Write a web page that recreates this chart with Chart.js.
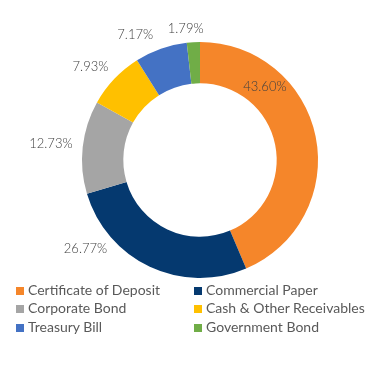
<!DOCTYPE html>
<html>
<head>
<meta charset="utf-8">
<script src="https://cdn.jsdelivr.net/npm/chart.js@4.4.0/dist/chart.umd.min.js"></script>
<style>
  body { margin: 0; background: #fff; }
  #wrap { position: relative; width: 369px; height: 390px; }
  #legend { position: absolute; left: 16px; top: 281px; width: 350px;
    font-family: Lato, "Open Sans", sans-serif; font-weight: 400; font-size: 14px; color: #595959; }
  .item { position: absolute; white-space: nowrap; line-height: 17px; }
  .box { display: inline-block; width: 8px; height: 8px; margin-right: 4px; vertical-align: 0px; }
</style>
</head>
<body>
<div id="wrap">
  <canvas id="myChart" width="369" height="390"></canvas>
  <div id="legend"></div>
</div>
<script>
// categories and values (percent)
const categories = ["Certificate of Deposit", "Commercial Paper", "Corporate Bond",
  "Cash & Other Receivables", "Treasury Bill", "Government Bond"];
const values = [43.60, 26.77, 12.73, 7.93, 7.17, 1.79];
const colors = ["#F5862A", "#05396F", "#A5A5A5", "#FFC000", "#4472C4", "#70AD47"];

// label placement: angle shift (deg) from slice middle, and radius (px) from center
const labelShift = [-37, 27, 0, -3, -8, -3];
const labelRadius = [98, 145, 150, 144, 141, 132];

// draws the percent labels
const pctLabels = {
  id: "pctLabels",
  afterDatasetsDraw(chart) {
    const ctx = chart.ctx;
    const arcs = chart.getDatasetMeta(0).data;
    ctx.save();
    ctx.font = "300 13px Lato, 'Open Sans', sans-serif";
    ctx.fillStyle = "#404040";
    ctx.textAlign = "center";
    ctx.textBaseline = "middle";
    arcs.forEach((arc, i) => {
      const mid = (arc.startAngle + arc.endAngle) / 2 + labelShift[i] * Math.PI / 180;
      const x = arc.x + Math.cos(mid) * labelRadius[i];
      const y = arc.y + Math.sin(mid) * labelRadius[i];
      ctx.fillText(values[i].toFixed(2) + "%", x, y);
    });
    ctx.restore();
  }
};

window.addEventListener("load", setup);

function setup() {
  const ctx = document.getElementById("myChart").getContext("2d");
  const chart = new Chart(ctx, {
    type: "doughnut",
    data: {
      labels: categories,
      datasets: [{
        data: values,
        backgroundColor: colors,
        borderWidth: 0,
      }],
    },
    options: {
      responsive: false,
      animation: false,
      cutout: "65%",
      layout: { padding: { left: 82, right: 51, top: 42, bottom: 112 } },
      plugins: { legend: { display: false }, tooltip: { enabled: false } },
    },
    plugins: [pctLabels],
  });

  // two-column legend under the chart
  const legend = document.getElementById("legend");
  chart.data.labels.forEach((name, i) => {
    const item = document.createElement("div");
    item.className = "item";
    item.style.left = (i % 2 === 0 ? 0 : 178) + "px";
    item.style.top = Math.floor(i / 2) * 18.3 + "px";
    item.innerHTML = '<span class="box" style="background:' + colors[i] + '"></span>' + name.replace("&", "&amp;");
    legend.appendChild(item);
  });
}
</script>
</body>
</html>
